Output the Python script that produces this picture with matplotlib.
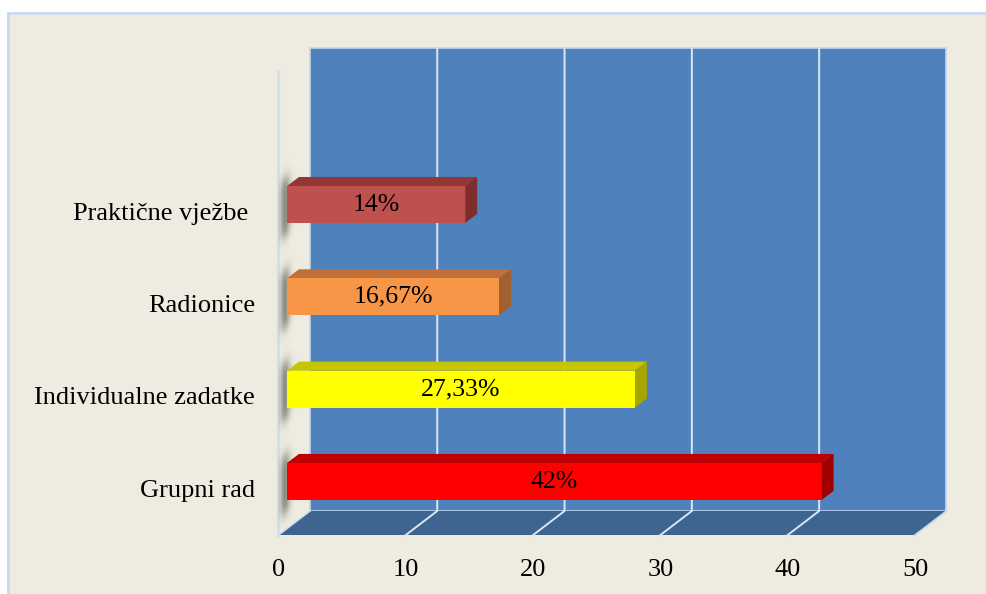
import numpy as np
import matplotlib
matplotlib.use("Agg")
import matplotlib.pyplot as plt
from matplotlib.patches import Polygon, Rectangle
from matplotlib.colors import LinearSegmentedColormap
from matplotlib.transforms import Affine2D

plt.rcParams['font.family'] = ['Liberation Serif', 'DejaVu Serif']

# ---- data -------------------------------------------------------------
categories = ['Grupni rad', 'Individualne zadatke', 'Radionice', 'Praktične vježbe ']
values = [42, 27.33, 16.67, 14]
value_labels = ['42%', '27,33%', '16,67%', '14%']
x_ticks = [0, 10, 20, 30, 40, 50]

front_colors = ['#FF0000', '#FFFF00', '#F79646', '#C0504D']
top_colors = ['#C00000', '#C6C600', '#C26F38', '#943634']
side_colors = ['#A20000', '#A6A600', '#A0602F', '#7D2E2C']

# ---- layout -----------------------------------------------------------
W, H = 987, 594
fig = plt.figure(figsize=(W / 100, H / 100), dpi=100)
fig.patch.set_facecolor('white')

# beige chart area with a pale blue frame on the left / top
fig.patches.append(Rectangle((8 / W, 0), 1, 1 - 13 / H, transform=fig.transFigure,
                             facecolor='#EEEBE0', edgecolor='none', zorder=-5))
fig.lines.append(plt.Line2D([8 / W, 8 / W], [0, 1 - 13 / H], transform=fig.transFigure,
                            color='#C9DAEE', lw=2, zorder=-4))
fig.lines.append(plt.Line2D([8 / W, 1], [1 - 13 / H, 1 - 13 / H], transform=fig.transFigure,
                            color='#C9DAEE', lw=2, zorder=-4))

ax = fig.add_axes([278.5 / W, 59 / H, 636.5 / W, 463 / H])
ax.patch.set_visible(False)
x_min, x_max = 0, 50
y_floor, y_top = -0.509, 4.506
ax.set_xlim(x_min, x_max)
ax.set_ylim(y_floor, y_top)
for s in ax.spines.values():
    s.set_visible(False)

# perspective depth offset (in data units)
DX, DY = 2.47, 0.26

# back wall
ax.add_patch(Polygon([(x_min + DX, y_floor + DY), (x_max + DX, y_floor + DY),
                      (x_max + DX, y_top + DY), (x_min + DX, y_top + DY)],
                     closed=True, facecolor='#4F81BD', edgecolor='#C3D5EC', lw=1.2,
                     clip_on=False, zorder=1))
# floor
ax.add_patch(Polygon([(x_min, y_floor), (x_max, y_floor),
                      (x_max + DX, y_floor + DY), (x_min + DX, y_floor + DY)],
                     closed=True, facecolor='#3E6490', edgecolor='none',
                     clip_on=False, zorder=1))
ax.plot([x_max, x_max + DX, x_max + DX], [y_floor, y_floor + DY, y_floor + DY + 0.05],
        color='#C8D9EE', lw=1.2, clip_on=False, zorder=2)
# gridlines on the wall and floor
for v in x_ticks[1:-1]:
    ax.plot([v, v + DX, v + DX], [y_floor, y_floor + DY, y_top + DY],
            color='#DCE6F2', lw=1.4, clip_on=False, zorder=2)
# left side wall edges
ax.plot([x_min, x_min], [y_floor, y_top], color='#D2DFEF', lw=2.2, clip_on=False, zorder=2)
ax.plot([x_min, x_min + DX], [y_floor, y_floor + DY], color='#D2DFEF', lw=1.2,
        clip_on=False, zorder=2)

# bar geometry
f0, f1 = 0.27, 0.65
bh = 0.40
ox0, oy0 = f0 * DX, f0 * DY
ox1, oy1 = f1 * DX, f1 * DY

shadow_cmap = LinearSegmentedColormap.from_list(
    'shadow', [(0.50, 0.50, 0.46, 0.0), (0.42, 0.42, 0.39, 0.75)])
# maps (depth fraction, height) on the left wall into data space
wall_skew = Affine2D(np.array([[DX, 0, 0], [DY, 1, 0], [0, 0, 1]])) + ax.transData

for i, (v, lab) in enumerate(zip(values, value_labels)):
    y0 = i - bh / 2
    y1 = i + bh / 2

    # soft shadow cast on the left wall
    f_lo, f_hi = 0.0, 0.75
    ys_lo, ys_hi = y0 - 0.35, y1 + 0.45
    fs = np.linspace(f_lo, f_hi, 60)
    ys = np.linspace(ys_lo, ys_hi, 120)
    F, Y = np.meshgrid(fs, ys)
    fy = 1 / (1 + np.exp(-(Y - (y0 - 0.13)) / 0.045)) * 1 / (1 + np.exp((Y - (y1 + 0.10)) / 0.045))
    ff = np.exp(-((F - 0.22) / 0.17) ** 2)
    shade = fy * ff
    im = ax.imshow(shade, cmap=shadow_cmap, vmin=0, vmax=1, origin='lower',
                   extent=(f_lo, f_hi, ys_lo, ys_hi), interpolation='bilinear',
                   aspect='auto', zorder=3, clip_on=False)
    im.set_transform(wall_skew)

    # top face
    ax.add_patch(Polygon([(ox0, y1 + oy0), (v + ox0, y1 + oy0),
                          (v + ox1, y1 + oy1), (ox1, y1 + oy1)],
                         closed=True, facecolor=top_colors[i], edgecolor='none', zorder=4))
    # side face
    ax.add_patch(Polygon([(v + ox0, y0 + oy0), (v + ox1, y0 + oy1),
                          (v + ox1, y1 + oy1), (v + ox0, y1 + oy0)],
                         closed=True, facecolor=side_colors[i], edgecolor='none', zorder=4))
    # front face
    ax.barh(i + oy0, v, height=bh, left=ox0, color=front_colors[i],
            edgecolor='none', zorder=5)
    ax.text(ox0 + v / 2, i + oy0, lab, ha='center', va='center',
            fontsize=18.5, color='black', zorder=6)

ax.set_xlim(x_min, x_max)
ax.set_ylim(y_floor, y_top)
ax.set_yticks(range(len(categories)))
ax.set_yticklabels(categories, fontsize=19)
ax.set_xticks(x_ticks)
ax.set_xticklabels([str(t) for t in x_ticks], fontsize=19)
ax.tick_params(axis='both', length=0)
ax.tick_params(axis='y', pad=17)
ax.tick_params(axis='x', pad=17)

fig.savefig('out.png', dpi=100)
